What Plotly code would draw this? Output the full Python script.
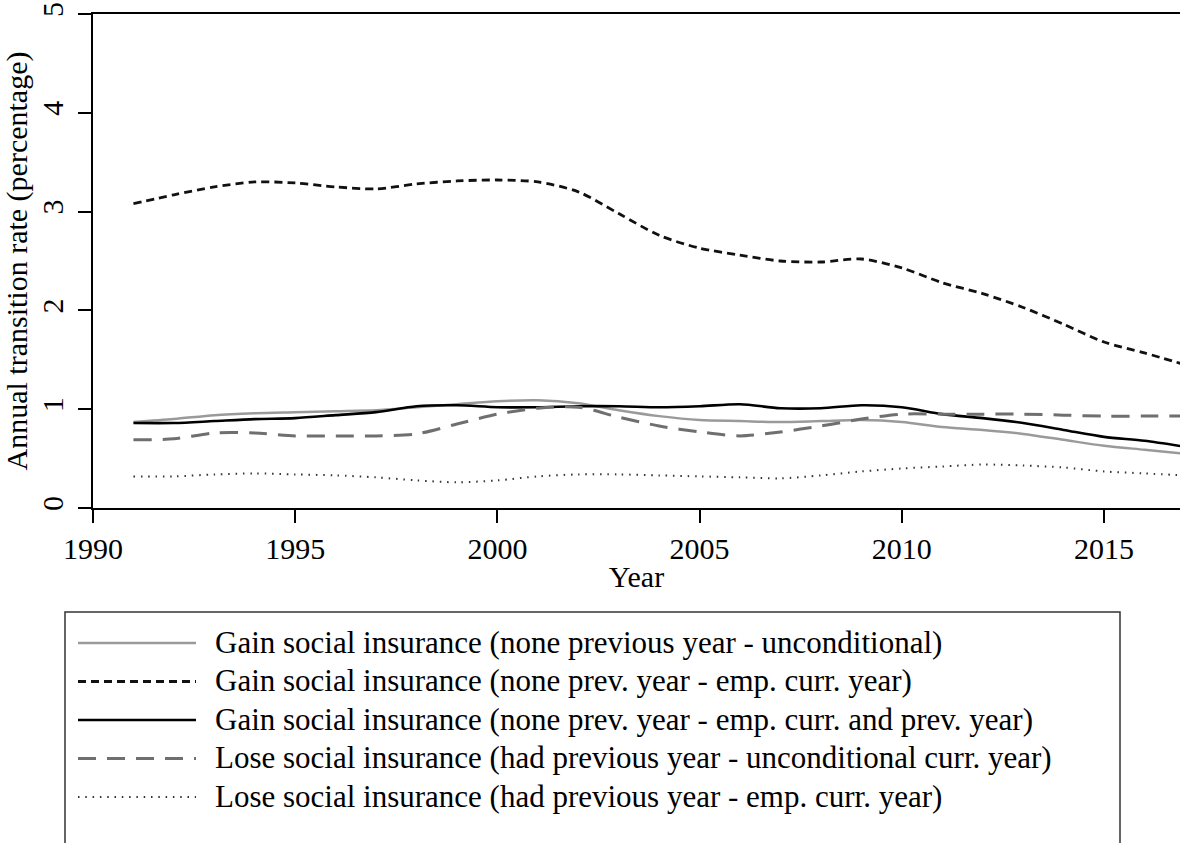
import plotly.graph_objects as go

# Annual transition rates (percent), 1991-2017
years = list(range(1991, 2018))

gain_uncond = [0.87, 0.90, 0.94, 0.96, 0.97, 0.98, 0.99, 1.02, 1.05, 1.08,
               1.09, 1.06, 0.99, 0.93, 0.89, 0.88, 0.87, 0.88, 0.89, 0.87,
               0.82, 0.79, 0.75, 0.69, 0.63, 0.59, 0.55]
gain_emp_curr = [3.08, 3.17, 3.25, 3.30, 3.29, 3.25, 3.23, 3.28, 3.31, 3.32,
                 3.30, 3.20, 2.98, 2.76, 2.63, 2.56, 2.50, 2.49, 2.52, 2.43,
                 2.28, 2.17, 2.03, 1.86, 1.68, 1.57, 1.45]
gain_emp_both = [0.86, 0.86, 0.88, 0.90, 0.91, 0.94, 0.97, 1.03, 1.04, 1.02,
                 1.02, 1.03, 1.03, 1.02, 1.03, 1.05, 1.01, 1.01, 1.04, 1.02,
                 0.95, 0.91, 0.86, 0.79, 0.72, 0.68, 0.62]
lose_uncond = [0.69, 0.70, 0.76, 0.76, 0.73, 0.73, 0.73, 0.75, 0.85, 0.95,
               1.01, 1.02, 0.92, 0.83, 0.77, 0.73, 0.77, 0.83, 0.90, 0.95,
               0.95, 0.95, 0.95, 0.94, 0.93, 0.93, 0.93]
lose_emp_curr = [0.32, 0.32, 0.34, 0.35, 0.34, 0.33, 0.31, 0.28, 0.26, 0.28,
                 0.32, 0.34, 0.34, 0.33, 0.32, 0.31, 0.30, 0.33, 0.37, 0.40,
                 0.42, 0.44, 0.43, 0.41, 0.37, 0.35, 0.33]

labels = [
    "Gain social insurance (none previous year - unconditional)",
    "Gain social insurance (none prev. year - emp. curr. year)",
    "Gain social insurance (none prev. year - emp. curr. and prev. year)",
    "Lose social insurance (had previous year - unconditional curr. year)",
    "Lose social insurance (had previous year - emp. curr. year)",
]
series = [gain_uncond, gain_emp_curr, gain_emp_both, lose_uncond, lose_emp_curr]
styles = [
    dict(color="#9a9a9a", width=2.5, dash="solid"),
    dict(color="#111111", width=2.8, dash="8px,5px"),
    dict(color="#000000", width=2.6, dash="solid"),
    dict(color="#6f6f6f", width=3.0, dash="18px,11px"),
    dict(color="#333333", width=2.0, dash="1.5px,5.8px"),
]

W, H = 1180, 843
L, R, T, B = 93, 0, 14, 335
plot_w = W - L - R
plot_h = H - T - B
FONT = "Liberation Serif, Times New Roman, serif"


def px_x(p):
    return (p - L) / plot_w


def px_y(p):
    return (H - B - p) / plot_h


fig = go.Figure()
for name, ys, st in zip(labels, series, styles):
    fig.add_trace(go.Scatter(
        x=years, y=ys, name=name, mode="lines",
        line=dict(color=st["color"], width=st["width"], dash=st["dash"],
                  shape="spline", smoothing=0.8),
        showlegend=False,
    ))

# Legend drawn as a framed box below the axes
shapes = [dict(type="rect", xref="paper", yref="paper",
               x0=px_x(65), x1=px_x(1120), y0=px_y(900), y1=px_y(612),
               line=dict(color="#333333", width=1.5), fillcolor="rgba(0,0,0,0)")]
annotations = []
row_y = [643, 681.5, 720, 758.5, 797]
for name, st, ry in zip(labels, styles, row_y):
    shapes.append(dict(type="line", xref="paper", yref="paper",
                       x0=px_x(78), x1=px_x(196), y0=px_y(ry), y1=px_y(ry),
                       line=dict(color=st["color"], width=st["width"], dash=st["dash"])))
    annotations.append(dict(xref="paper", yref="paper", x=px_x(213), y=px_y(ry - 1),
                            xanchor="left", yanchor="middle", showarrow=False,
                            text=name, font=dict(family=FONT, size=31, color="black")))

axis_common = dict(showline=True, linecolor="black", linewidth=2, ticks="outside",
                   ticklen=13, tickwidth=2, tickcolor="black", showgrid=False,
                   zeroline=False, tickfont=dict(family=FONT, size=30, color="black"))

fig.update_layout(
    width=W, height=H,
    margin=dict(l=L, r=R, t=T, b=B, pad=0),
    paper_bgcolor="white", plot_bgcolor="white",
    font=dict(family=FONT, color="black"),
    xaxis=dict(range=[1990, 1990 + plot_w / 40.44], tickvals=[1990, 1995, 2000, 2005, 2010, 2015],
               mirror=True,
               title=dict(text="Year", font=dict(family=FONT, size=30), standoff=2),
               **axis_common),
    yaxis=dict(range=[0, 5], tickvals=[0, 1, 2, 3, 4, 5], tickangle=-90,
               ticklabelstandoff=3,
               title=dict(text="Annual transition rate (percentage)",
                          font=dict(family=FONT, size=30), standoff=4),
               **axis_common),
    shapes=shapes,
    annotations=annotations,
)

fig.write_html("out.html")
